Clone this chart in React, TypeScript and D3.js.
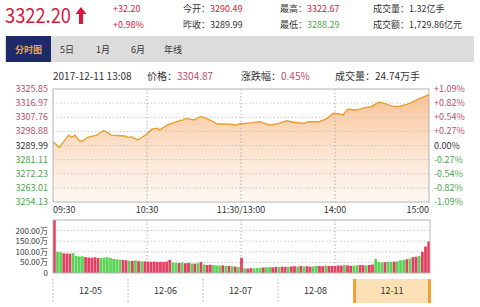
import React from "react";
import * as d3 from "d3";

const priceMinutes = [0,4,10,12,14,17,19,22,28,32,34,37,43,46,48,50,54,60,63,67,68,73,77,83,85,90,94,96,100,105,111,117,119,128,132,138,143,149,153,160,163,170,175,179,183,185,188,194,199,203,208,210,216,220,226,230,232,236,240];
const priceValues = [3292.4,3288.8,3296.6,3295.2,3296.5,3292.8,3292.8,3295.2,3296.6,3299.4,3298.8,3296.6,3296.2,3296.0,3295.0,3295.6,3293.5,3297.3,3300.3,3300.9,3299.8,3303.0,3304.5,3306.2,3307.2,3306.2,3308.3,3307.9,3306.2,3303.6,3303.6,3303.0,3303.6,3304.5,3305.1,3303.0,3303.6,3305.7,3304.9,3304.0,3305.1,3305.1,3307.2,3310.4,3310.0,3309.3,3313.0,3312.5,3314.0,3314.6,3317.4,3317.2,3315.1,3314.6,3316.1,3317.8,3318.9,3320.6,3322.5];

const priceTicks = ["3325.85","3316.97","3307.76","3298.88","3289.99","3281.11","3272.23","3263.01","3254.13"];
const pctTicks = ["+1.09%","+0.82%","+0.54%","+0.27%","0.00%","-0.27%","-0.54%","-0.82%","-1.09%"];
const timeTickMinutes = [0,60,120,180,240];
const timeTickLabels = ["09:30","10:30","11:30/13:00","14:00","15:00"];
const volTicks = [0,50,100,150,200];
const volTickLabels = ["0","50.00万","100.00万","150.00万","200.00万"];

const volumes = [
  250,
  100,98, 93,92,91, 94, 80,78,79,
  75,73,72,74,71, 72,73,74,71, 66,65,63, 62,60,
  58,57,60,56,55, 55,54,53,54,52,53,52,54, 62,
  50,48,47,49,46,47,45,44,46,52,
  40,38,39,37,36,35,36,34,33,32,30,28,72,
  22,21,23,22,24,25,26,27,28,27,29,28,30,29,30,
  31,32,30,33,31,32,30,31,34,33,32,35,33,34,33,
  36,35,37,36,34,35,36,38,37,36,38,40,66,
  52,50,51,53,52,54,55,
  60,62,65,68,
  75,77,80,
  100,125,148
];
const volColors = "r" + "gg" + "rrr" + "g" + "ggg" + "rrrrr" + "ggggggg" + "rr" + "grgrg" + "rrrrrrrrr" + "ggrgrrgrgr" + "grrgggrgrgrgr" + "grrgggrggrrgrrg" + "rrgrgrrggrrgrrr" + "rrgrrggrrgrrg" + "ggrggrg" + "ggrg" + "rrg" + "rrr";

const navDates = ["12-05","12-06","12-07","12-08","12-11"];
const tabs = ["5日","1月","6月","年线"];

const RED = "#d9183b";
const UPC = "#c24a6a";
const DNC = "#4fa54f";
const FONT = "'Noto Sans CJK SC', 'Noto Sans', sans-serif";

export default function App() {
  const L = 53, R = 429;
  const x = d3.scaleLinear().domain([0, 240]).range([L, R]);
  const yP = d3.scaleLinear().domain([3254.13, 3325.85]).range([202, 89]);
  const yV = d3.scaleLinear().domain([0, 250]).range([273, 220]);
  const band = d3.scaleBand<number>().domain(volumes.map((_, i) => i)).range([L, R + 1]).paddingInner(0.12);

  const pts = priceMinutes.map((m, i) => [m, priceValues[i]] as [number, number]);
  const line = d3.line<[number, number]>().x(d => x(d[0])).y(d => yP(d[1]));
  const area = d3.area<[number, number]>().x(d => x(d[0])).y0(202).y1(d => yP(d[1]));

  const tickY = (i: number) => 89 + (202 - 89) * i / 8;
  const tickColor = (i: number) => (i < 4 ? UPC : i === 4 ? "#333" : DNC);

  const navX = [53, 128, 203, 278, 353, 431];

  return (
    <svg width={480} height={307} style={{ position: "absolute", left: 0, top: 0 }} fontFamily={FONT}>
      <defs>
        <linearGradient id="ag" x1="0" y1="89" x2="0" y2="202" gradientUnits="userSpaceOnUse">
          <stop offset="0" stopColor="#f7b27a" stopOpacity={0.85} />
          <stop offset="1" stopColor="#fdf0e4" stopOpacity={0.5} />
        </linearGradient>
      </defs>
      <rect width={480} height={307} fill="#fff" />
      {/* header */}
      <text x={5} y={23} fontSize={20} fill={RED} textLength={66} lengthAdjust="spacingAndGlyphs">3322.20</text>
      <path d="M81 7 L86.5 14 L83 14 L83 24 L79 24 L79 14 L75.5 14 Z" fill={RED} />
      <text x={113} y={12} fontSize={9} fill={RED}>+32.20</text>
      <text x={113} y={28} fontSize={9} fill={RED}>+0.98%</text>
      <text x={183} y={12} fontSize={9} fill="#333">今开：<tspan fill={RED}>3290.49</tspan></text>
      <text x={183} y={28} fontSize={9} fill="#333">昨收：3289.99</text>
      <text x={280} y={12} fontSize={9} fill="#333">最高：<tspan fill={RED}>3322.67</tspan></text>
      <text x={280} y={28} fontSize={9} fill="#333">最低：<tspan fill={DNC}>3288.29</tspan></text>
      <text x={373} y={12} fontSize={9} fill="#333">成交量：1.32亿手</text>
      <text x={373} y={28} fontSize={9} fill="#333">成交额：1,729.86亿元</text>
      {/* tabs */}
      <rect x={5} y={36} width={469} height={26} fill="#dcdcdc" />
      <rect x={6} y={36} width={45} height={26} fill="#1f2a6b" />
      <text x={28.5} y={52.5} fontSize={9} fontWeight="bold" fill="#f3a53a" textAnchor="middle">分时图</text>
      {tabs.map((t, i) => (
        <text key={t} x={[67, 103, 138, 173][i]} y={52.5} fontSize={9} fill="#333" textAnchor="middle">{t}</text>
      ))}
      {/* info row */}
      <text x={53} y={80} fontSize={10} fill="#333">2017-12-11 13:08</text>
      <text x={147} y={80} fontSize={10} fill="#333">价格：<tspan fill={UPC}>3304.87</tspan></text>
      <text x={241} y={80} fontSize={10} fill="#333">涨跌幅：<tspan fill={UPC}>0.45%</tspan></text>
      <text x={335} y={80} fontSize={10} fill="#333">成交量：24.74万手</text>
      {/* price panel */}
      <path d={area(pts) || ""} fill="url(#ag)" />
      {priceTicks.map((t, i) => (
        <g key={t}>
          {i > 0 && i < 8 && <line x1={L} x2={R} y1={tickY(i)} y2={tickY(i)} stroke="#c8c8c8" strokeDasharray="1.5,2" />}
          <text x={48} y={tickY(i) + 3} fontSize={9} fill={tickColor(i)} textAnchor="end">{t}</text>
          <text x={434} y={tickY(i) + 3} fontSize={9} fill={tickColor(i)}>{pctTicks[i]}</text>
        </g>
      ))}
      {timeTickMinutes.slice(1, 4).map(m => (
        <g key={m}>
          <line x1={x(m)} x2={x(m)} y1={89} y2={202} stroke="#b0b0b0" strokeDasharray="1.5,2" />
          <line x1={x(m)} x2={x(m)} y1={220} y2={273} stroke="#b0b0b0" strokeDasharray="1.5,2" />
        </g>
      ))}
      <path d={line(pts) || ""} fill="none" stroke="#e9a030" strokeWidth={1.4} />
      <rect x={L} y={89} width={R - L} height={113} fill="none" stroke="#b4b4b4" />
      {timeTickMinutes.map((m, i) => (
        <text key={m} x={x(m)} y={213} fontSize={9} fill="#333" textAnchor={i === 0 ? "start" : i === 4 ? "end" : "middle"}>{timeTickLabels[i]}</text>
      ))}
      {/* volume panel */}
      {volTicks.map((v, i) => (
        <g key={v}>
          {i > 0 && <line x1={L} x2={R} y1={yV(v)} y2={yV(v)} stroke="#c8c8c8" strokeDasharray="1.5,2" />}
          <text x={48} y={yV(v) + 3} fontSize={8} fill="#333" textAnchor="end">{volTickLabels[i]}</text>
        </g>
      ))}
      {volumes.map((v, i) => (
        <rect key={i} x={band(i)} width={band.bandwidth()} y={yV(v)} height={273 - yV(v)} fill={volColors[i] === "g" ? "#5bd356" : "#e43f62"} />
      ))}
      <rect x={L} y={220} width={R - L + 1} height={53} fill="none" stroke="#b4b4b4" />
      {/* date nav */}
      <rect x={353} y={279} width={78} height={24} fill="#fbe0b6" />
      <rect x={353} y={279} width={3} height={24} fill="#f0a035" />
      <rect x={428} y={279} width={3} height={24} fill="#f0a035" />
      {navX.slice(0, 4).map(v => (
        <line key={v} x1={v} x2={v} y1={279} y2={303} stroke="#b0b0b0" strokeDasharray="1.5,2" />
      ))}
      {navDates.map((d, i) => (
        <text key={d} x={(navX[i] + navX[i + 1]) / 2} y={294} fontSize={9} fill="#333" textAnchor="middle">{d}</text>
      ))}
    </svg>
  );
}
